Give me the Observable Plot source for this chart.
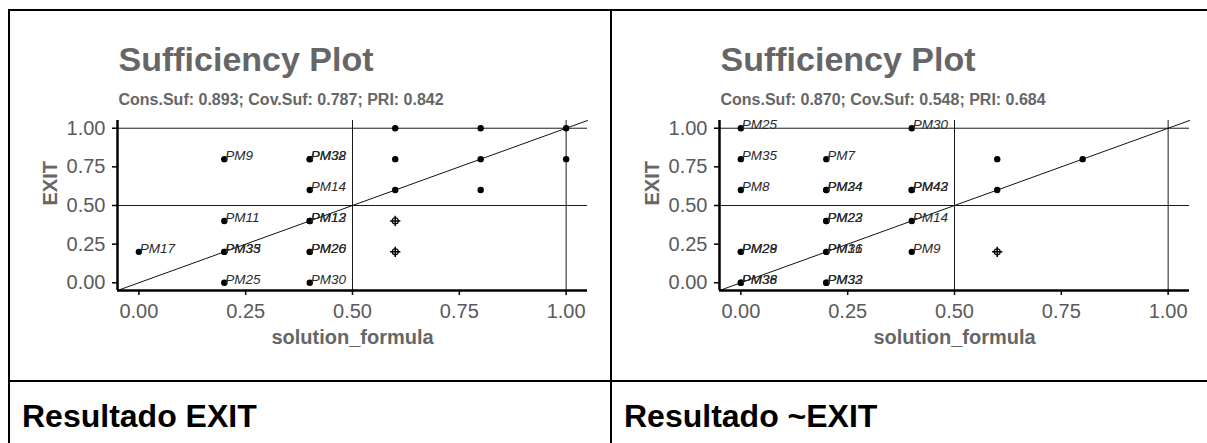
<!DOCTYPE html>
<html><head><meta charset="utf-8">
<script src="https://cdn.jsdelivr.net/npm/d3@7"></script>
<script src="https://cdn.jsdelivr.net/npm/@observablehq/plot@0.6"></script>
<style>
html,body{margin:0;padding:0;background:#fff;}
#page{position:relative;width:1207px;height:443px;overflow:hidden;font-family:Arial,"Liberation Sans",sans-serif;background:#fff;}
.b{position:absolute;background:#000;}
.cap{position:absolute;font-size:32px;line-height:32px;font-weight:bold;color:#000;white-space:nowrap;}
.plot{position:absolute;}
</style></head>
<body><div id="page">
<div class="b" style="left:8px;top:9px;width:1210px;height:2px"></div>
<div class="b" style="left:8px;top:9px;width:2px;height:440px"></div>
<div class="b" style="left:610px;top:9px;width:2px;height:440px"></div>
<div class="b" style="left:8px;top:380px;width:1210px;height:2px"></div>
<div class="cap" style="left:22px;top:400px">Resultado EXIT</div>
<div class="cap" style="left:624px;top:400px">Resultado ~EXIT</div>
<div id="p1" class="plot" style="left:10px;top:20px"></div>
<div id="p2" class="plot" style="left:612px;top:20px"></div>
</div>
<script>
// ---- shared axis data ----
const axisDomain = [-0.05, 1.05];
const axisTicks = [0, 0.25, 0.5, 0.75, 1];
const refLines = [0.5, 1];
const plotTitle = "Sufficiency Plot";
const xTitle = "solution_formula";
const yTitle = "EXIT";

// ---- panel 1: EXIT ----
const exitStats = "Cons.Suf: 0.893; Cov.Suf: 0.787; PRI: 0.842";
const exitLabels = ["PM17","PM9","PM11","PM33","PM35","PM25","PM32","PM38","PM14","PM12","PM13","PM20","PM26","PM30"];
const exitLabelX = [0, 0.2, 0.2, 0.2, 0.2, 0.2, 0.4, 0.4, 0.4, 0.4, 0.4, 0.4, 0.4, 0.4];
const exitLabelY = [0.2, 0.8, 0.4, 0.2, 0.2, 0, 0.8, 0.8, 0.6, 0.4, 0.4, 0.2, 0.2, 0];
const exitOtherX = [0.6, 0.6, 0.6, 0.8, 0.8, 0.8, 1, 1];
const exitOtherY = [1, 0.8, 0.6, 1, 0.8, 0.6, 1, 0.8];
const exitDeviantX = [0.6, 0.6];
const exitDeviantY = [0.4, 0.2];

// ---- panel 2: ~EXIT ----
const notStats = "Cons.Suf: 0.870; Cov.Suf: 0.548; PRI: 0.684";
const notLabels = ["PM25","PM35","PM8","PM28","PM29","PM36","PM38","PM7","PM24","PM34","PM22","PM23","PM31","PM16","PM32","PM33","PM30","PM42","PM43","PM14","PM9"];
const notLabelX = [0, 0, 0, 0, 0, 0, 0, 0.2, 0.2, 0.2, 0.2, 0.2, 0.2, 0.2, 0.2, 0.2, 0.4, 0.4, 0.4, 0.4, 0.4];
const notLabelY = [1, 0.8, 0.6, 0.2, 0.2, 0, 0, 0.8, 0.6, 0.6, 0.4, 0.4, 0.2, 0.2, 0, 0, 1, 0.6, 0.6, 0.4, 0.2];
const notOtherX = [0.6, 0.6, 0.8];
const notOtherY = [0.8, 0.6, 0.8];
const notDeviantX = [0.6];
const notDeviantY = [0.2];

const FONT = 'Arial, "Liberation Sans", sans-serif';
const GREY = "#666";

function rows(X, Y, L) {
  return X.map((x, i) => ({x, y: Y[i], label: L ? L[i] : ""}));
}

function panel(stats, labX, labY, labs, othX, othY, devX, devY) {
  const labeled = rows(labX, labY, labs);
  const others = rows(othX, othY);
  const deviant = rows(devX, devY);
  return Plot.plot({
    width: 592, height: 345,
    marginLeft: 107, marginRight: 15, marginTop: 100, marginBottom: 75,
    x: {domain: axisDomain},
    y: {domain: axisDomain},
    style: {background: "transparent", fontFamily: FONT, overflow: "visible"},
    marks: [
      Plot.ruleY(refLines, {stroke: "#1a1a1a", strokeWidth: 1}),
      Plot.ruleX(refLines, {stroke: "#1a1a1a", strokeWidth: 1}),
      Plot.line(axisDomain, {x: d => d, y: d => d, stroke: "#111", strokeWidth: 1}),
      Plot.ruleY([axisDomain[0]], {stroke: "#000", strokeWidth: 2.5}),
      Plot.ruleX([axisDomain[0]], {stroke: "#000", strokeWidth: 2.5}),
      Plot.axisX({ticks: axisTicks, tickFormat: d3.format(".2f"), tickSize: 5, tickPadding: 8,
        fontSize: 20, stroke: "#000", strokeWidth: 1.5, fill: "#5a5a5a", label: null}),
      Plot.axisY({ticks: axisTicks, tickFormat: d3.format(".2f"), tickSize: 5, tickPadding: 7,
        fontSize: 20, stroke: "#000", strokeWidth: 1.5, fill: "#5a5a5a", label: null}),
      Plot.dot(labeled, {x: "x", y: "y", r: 3.2, fill: "#000"}),
      Plot.dot(others, {x: "x", y: "y", r: 3.2, fill: "#000"}),
      Plot.dot(deviant, {x: "x", y: "y", r: 3, symbol: "circle", stroke: "#000", strokeWidth: 1.2, fill: "none"}),
      Plot.dot(deviant, {x: "x", y: "y", r: 3.4, symbol: "plus", stroke: "#000", strokeWidth: 1.5}),
      Plot.text(labeled, {x: "x", y: "y", text: "label", textAnchor: "start", lineAnchor: "bottom",
        dx: 1, dy: 1, fontStyle: "italic", fontSize: 13.5, fill: "#2a2a2a"}),
      Plot.text([plotTitle], {frameAnchor: "top-left", dx: 1, dy: -50, textAnchor: "start", lineAnchor: "bottom",
        fontSize: 34, fontWeight: "bold", fill: GREY}),
      Plot.text([stats], {frameAnchor: "top-left", dx: 1, dy: -16, textAnchor: "start", lineAnchor: "bottom",
        fontSize: 16, fontWeight: "bold", fill: GREY}),
      Plot.text([xTitle], {frameAnchor: "bottom", dy: 53, lineAnchor: "bottom",
        fontSize: 20, fontWeight: "bold", fill: GREY}),
      Plot.text([yTitle], {frameAnchor: "left", dx: -67, rotate: -90, lineAnchor: "middle",
        fontSize: 20, fontWeight: "bold", fill: GREY})
    ]
  });
}

document.getElementById("p1").append(
  panel(exitStats, exitLabelX, exitLabelY, exitLabels, exitOtherX, exitOtherY, exitDeviantX, exitDeviantY));
document.getElementById("p2").append(
  panel(notStats, notLabelX, notLabelY, notLabels, notOtherX, notOtherY, notDeviantX, notDeviantY));
</script>
</body></html>
